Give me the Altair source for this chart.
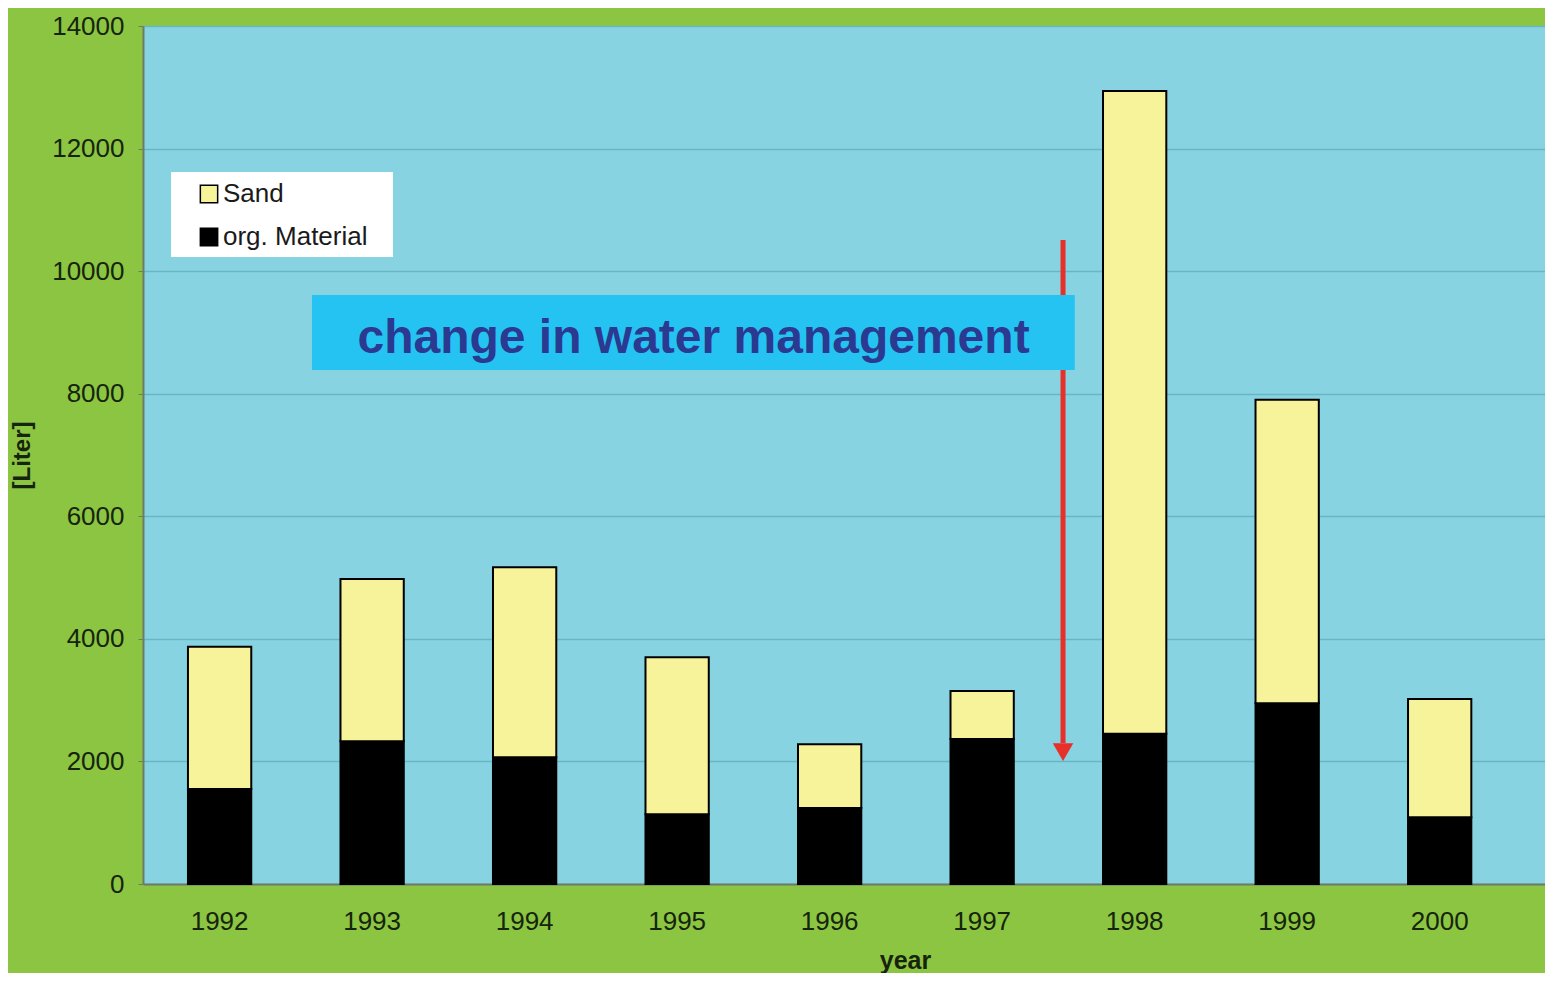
import altair as alt
import pandas as pd

# ---- data ----
years = ["1992", "1993", "1994", "1995", "1996", "1997", "1998", "1999", "2000"]
org_material = [1550, 2330, 2070, 1140, 1240, 2365, 2450, 2950, 1090]
sand = [2320, 2645, 3100, 2560, 1040, 785, 10490, 4950, 1930]
series = ["Sand", "org. Material"]
series_colors = ["#f7f39a", "#000000"]
y_ticks = [0, 2000, 4000, 6000, 8000, 10000, 12000, 14000]

# annotation (x in category-step units from the plot's left edge, y in Liter)
note_text = ["change in water management"]
note_box_x = [1.108, 6.11]
note_box_y = [8386, 9610]
note_text_pos = [3.61, 8900]
arrow_x = [6.033]
arrow_y = [10507, 2300]
arrow_head_y = [2150]
legend_box_x = [0.184, 1.639]
legend_box_y = [10231, 11618]

rows = []
for i, yr in enumerate(years):
    rows.append({"year": yr, "series": "org. Material", "value": org_material[i], "ord": 0})
    rows.append({"year": yr, "series": "Sand", "value": sand[i], "ord": 1})
df = pd.DataFrame(rows)

FONT = "Liberation Sans"
TXT = "#16240e"
GREY = "#6f7a66"
W = 1402
STEPS_IN_VIEW = 9.1934

yscale = alt.Scale(domain=[0, 14000], nice=False)
xq = alt.Scale(domain=[0, STEPS_IN_VIEW], nice=False, zero=False)

# annotation layers (drawn first: their x scale spans the full plot width)
lbox_df = pd.DataFrame({"x1": [legend_box_x[0]], "x2": [legend_box_x[1]],
                        "y1": [legend_box_y[0]], "y2": [legend_box_y[1]]})
legend_box = alt.Chart(lbox_df).mark_rect(color="white").encode(
    x=alt.X("x1:Q", scale=xq, axis=None), x2="x2:Q",
    y=alt.Y("y1:Q", scale=yscale), y2="y2:Q")

arrow_df = pd.DataFrame({"ax": arrow_x, "y1": [arrow_y[0]], "y2": [arrow_y[1]], "yh": arrow_head_y})
arrow_line = alt.Chart(arrow_df).mark_rule(color="#e8302a", strokeWidth=5).encode(
    x=alt.X("ax:Q", scale=xq, axis=None), y=alt.Y("y1:Q", scale=yscale), y2="y2:Q")
arrow_head = alt.Chart(arrow_df).mark_point(shape="triangle-down", filled=True, color="#e8302a",
                                            opacity=1, size=420).encode(
    x=alt.X("ax:Q", scale=xq, axis=None), y=alt.Y("yh:Q", scale=yscale))

box_df = pd.DataFrame({"x1": [note_box_x[0]], "x2": [note_box_x[1]], "y1": [note_box_y[0]], "y2": [note_box_y[1]]})
box = alt.Chart(box_df).mark_rect(color="#25c3f1").encode(
    x=alt.X("x1:Q", scale=xq, axis=None), x2="x2:Q",
    y=alt.Y("y1:Q", scale=yscale), y2="y2:Q")

txt_df = pd.DataFrame({"tx": [note_text_pos[0]], "ty": [note_text_pos[1]], "t": note_text})
note = alt.Chart(txt_df).mark_text(font=FONT, fontWeight="bold", fontSize=48, color="#2b3990",
                                   align="center", baseline="middle").encode(
    x=alt.X("tx:Q", scale=xq, axis=None), y=alt.Y("ty:Q", scale=yscale), text="t:N")

ann = alt.layer(legend_box, arrow_line, arrow_head, box, note)

bars = alt.Chart(df).mark_bar(stroke="black", strokeWidth=2).encode(
    x=alt.X("year:N", sort=years,
            scale=alt.Scale(domain=years, paddingInner=0.585, paddingOuter=0.389, align=0.379),
            axis=alt.Axis(title="year", labelAngle=0, labelFontSize=26, labelFont=FONT, labelColor=TXT,
                          labelPadding=24, ticks=False, domainColor=GREY, domainWidth=2,
                          titleFont=FONT, titleFontSize=25, titleFontWeight="bold", titleColor=TXT,
                          titleX=762, titleY=76, titleBaseline="middle", grid=False)),
    y=alt.Y("value:Q", stack="zero", scale=yscale,
            axis=alt.Axis(title="[Liter]", values=y_ticks, format="d", labelFontSize=26, labelFont=FONT,
                          labelColor=TXT, labelPadding=14, tickSize=5, tickColor=GREY,
                          domainColor=GREY, domainWidth=2, grid=True, gridColor="#68b6c4",
                          gridWidth=1.5, titleFont=FONT, titleFontSize=24, titleFontWeight="bold",
                          titleColor=TXT, titleX=-121, titleY=429, titleBaseline="middle", titleAngle=-90)),
    color=alt.Color("series:N", scale=alt.Scale(domain=series, range=series_colors),
                    legend=alt.Legend(title=None, orient="none", legendX=53, legendY=155,
                                      padding=0, symbolType="square",
                                      symbolSize=300, symbolStrokeColor="black", symbolStrokeWidth=1.5,
                                      labelFontSize=26, labelFont=FONT, labelColor="#1a1a1a",
                                      rowPadding=17, labelOffset=1)),
    order=alt.Order("ord:Q"),
)

chart = alt.layer(ann, bars).resolve_scale(x="independent").properties(
    width=W, height=858,
    background="#8cc541",
    padding={"left": 135, "top": 18, "right": 0, "bottom": 89},
    autosize=alt.AutoSizeParams(type="none"),
).configure_view(fill="#87d3e2", stroke=None)

chart.save("out.html", embed_options={"renderer": "svg", "actions": False})
